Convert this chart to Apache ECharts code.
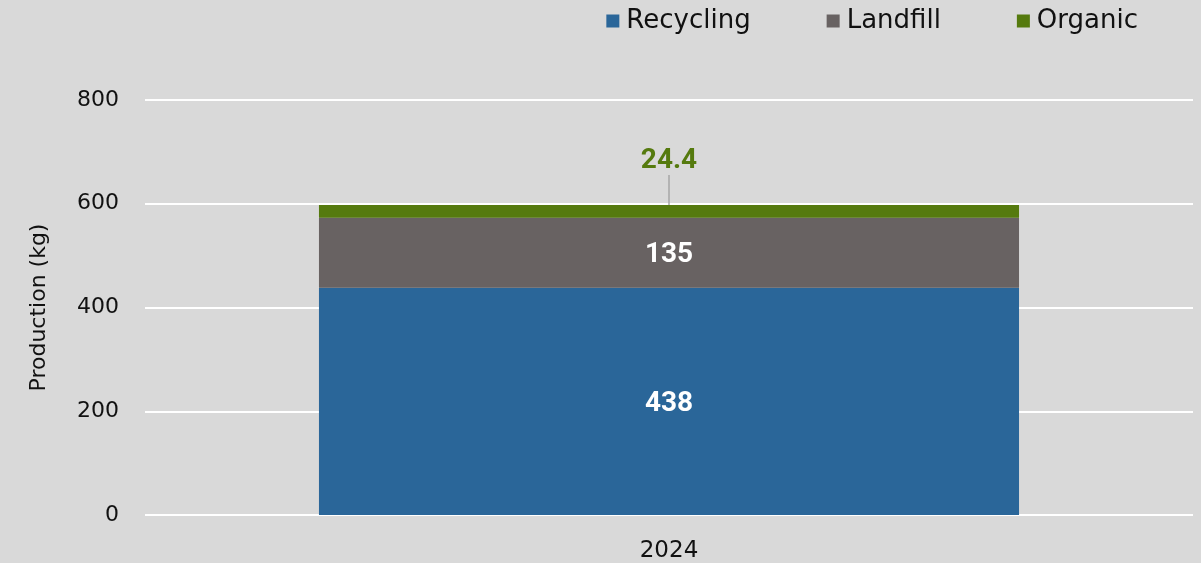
<!DOCTYPE html>
<html>
<head>
<meta charset="utf-8">
<script src="https://cdn.jsdelivr.net/npm/echarts@6/dist/echarts.min.js"></script>
<style>
  html, body { margin: 0; padding: 0; background: #d9d9d9; }
  #chart { width: 1201px; height: 563px; }
</style>
</head>
<body>
<div id="chart"></div>
<script>
// data
const years = ['2024']
const recycling = [438]
const landfill = [135]
const organic = [24.4]
const yTicks = { min: 0, max: 800, interval: 200 }

const axisFont = 'DejaVu Sans'
const labelFont = 'Roboto'

const chart = echarts.init(document.getElementById('chart'))

const option = {
  backgroundColor: '#d9d9d9',
  animation: false,
  legend: {
    data: ['Recycling', 'Landfill', 'Organic'],
    top: 3,
    right: 58,
    itemWidth: 13,
    itemHeight: 13,
    itemGap: 76,
    icon: 'rect',
    textStyle: { fontFamily: axisFont, fontSize: 26, color: '#111', padding: [0, 0, 0, 2] }
  },
  grid: { left: 145, right: 8, top: 100, bottom: 48 },
  xAxis: {
    type: 'category',
    data: years,
    axisLine: { show: false },
    axisTick: { show: false },
    axisLabel: { fontFamily: axisFont, fontSize: 23, color: '#111', margin: 25 }
  },
  yAxis: {
    type: 'value',
    min: yTicks.min,
    max: yTicks.max,
    interval: yTicks.interval,
    name: 'Production (kg)',
    nameLocation: 'middle',
    nameGap: 95,
    nameTextStyle: { fontFamily: axisFont, fontSize: 22, color: '#111' },
    axisLine: { show: false },
    axisTick: { show: false },
    axisLabel: { fontFamily: axisFont, fontSize: 22, color: '#111', margin: 26 },
    splitLine: { lineStyle: { color: '#ffffff', width: 2 } }
  },
  series: [
    {
      name: 'Recycling',
      type: 'bar',
      stack: 'total',
      barWidth: '66.8%',
      data: recycling,
      itemStyle: { color: '#2a6699' },
      label: {
        show: true, position: 'inside', offset: [0, 3],
        fontFamily: labelFont, fontWeight: 'bold', fontSize: 28, color: '#fff'
      }
    },
    {
      name: 'Landfill',
      type: 'bar',
      stack: 'total',
      data: landfill,
      itemStyle: { color: '#686262' },
      label: {
        show: true, position: 'inside', offset: [0, 2],
        fontFamily: labelFont, fontWeight: 'bold', fontSize: 28, color: '#fff'
      }
    },
    {
      name: 'Organic',
      type: 'bar',
      stack: 'total',
      data: organic,
      itemStyle: { color: '#557a0e' },
      label: {
        show: true, position: 'top', distance: 0,
        fontFamily: labelFont, fontWeight: 'bold', fontSize: 28, color: '#557a0e'
      },
      labelLayout: { dy: -30 },
      labelLine: { show: true, length2: 0, lineStyle: { color: '#a6a6a6', width: 1.5 } }
    }
  ]
}

chart.setOption(option)
</script>
</body>
</html>
